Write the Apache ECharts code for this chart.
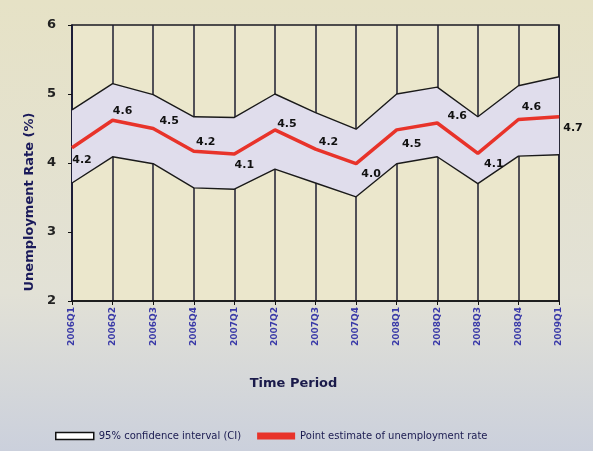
<!DOCTYPE html>
<html>
<head>
<meta charset="utf-8">
<script src="https://cdn.jsdelivr.net/npm/echarts@6/dist/echarts.min.js"></script>
<style>html,body{margin:0;padding:0;}#c{width:593px;height:451px;}</style>
</head>
<body>
<div id="c"></div>
<script>
const categories = ['2006Q1','2006Q2','2006Q3','2006Q4','2007Q1','2007Q2','2007Q3','2007Q4','2008Q1','2008Q2','2008Q3','2008Q4','2009Q1'];
const pointEstimate = [4.22, 4.62, 4.5, 4.17, 4.13, 4.48, 4.2, 3.99, 4.48, 4.58, 4.14, 4.63, 4.67];
const ciUpper = [4.77, 5.15, 4.99, 4.67, 4.66, 5.0, 4.73, 4.49, 5.0, 5.1, 4.67, 5.12, 5.25];
const ciLower = [3.71, 4.09, 3.99, 3.64, 3.62, 3.91, 3.71, 3.51, 3.99, 4.09, 3.7, 4.1, 4.12];
const yTicks = [2, 3, 4, 5, 6];

// label layout (pixel offsets relative to each point)
const labelOffsets = [[10,12],[10,-9],[16,-7],[12,-9],[10,11],[12,-6],[13,-7],[15,10],[15,14],[20,-7],[16,11],[13,-12],[14,11]];

const font = 'DejaVu Sans, Verdana, sans-serif';
const chart = echarts.init(document.getElementById('c'));
const bandDiff = ciUpper.map((u, i) => +(u - ciLower[i]).toFixed(3));

chart.setOption({
  animation: false,
  backgroundColor: {
    type: 'linear', x: 0, y: 0, x2: 0, y2: 1,
    colorStops: [
      {offset: 0, color: '#e6e2c6'},
      {offset: 0.65, color: '#e2e1d6'},
      {offset: 1, color: '#cbd0dc'}
    ]
  },
  grid: {
    left: 72, right: 34, top: 25, bottom: 150,
    show: true, backgroundColor: '#ebe7cc', borderColor: '#1a1a22', borderWidth: 1.5
  },
  legend: {
    left: 50, bottom: 5,
    itemWidth: 38, itemHeight: 7, itemGap: 16,
    textStyle: {fontFamily: font, fontSize: 10, color: '#1a1a50'},
    data: [
      {name: '95% confidence interval (CI)', icon: 'rect', itemStyle: {color: '#ffffff', borderColor: '#111', borderWidth: 1.5}},
      {name: 'Point estimate of unemployment rate', icon: 'rect', itemStyle: {color: '#e8332a', borderWidth: 0}}
    ]
  },
  xAxis: {
    type: 'category', data: categories, boundaryGap: false,
    name: 'Time Period', nameLocation: 'middle', nameGap: 76,
    nameTextStyle: {fontFamily: font, fontWeight: 'bold', fontSize: 13, color: '#1a1a4a', padding: [0, 44, 0, 0]},
    axisLine: {lineStyle: {color: '#111', width: 1.5}},
    axisTick: {show: true, length: 4, lineStyle: {color: '#111'}},
    axisLabel: {rotate: 90, fontFamily: font, fontSize: 9, fontWeight: 'bold', color: '#3a3aa8', margin: 6},
    splitLine: {show: true, lineStyle: {color: '#1e1e30', width: 1.5}}
  },
  yAxis: {
    type: 'value', min: yTicks[0], max: yTicks[yTicks.length - 1], interval: 1,
    name: 'Unemployment Rate (%)', nameLocation: 'middle', nameGap: 30,
    nameTextStyle: {fontFamily: font, fontWeight: 'bold', fontSize: 13, color: '#1a1a5a', padding: [0, 78, 0, 0]},
    axisLine: {show: true, lineStyle: {color: '#1a1a3a', width: 1.5}},
    axisTick: {show: true, length: 4, lineStyle: {color: '#111'}},
    axisLabel: {fontFamily: font, fontSize: 13, fontWeight: 'bold', color: '#222', margin: 16},
    splitLine: {show: false}
  },
  series: [
    {
      name: 'bandBase', type: 'line', stack: 'ci', data: ciLower,
      symbol: 'none', lineStyle: {opacity: 0}, silent: true
    },
    {
      name: '95% confidence interval (CI)', type: 'line', stack: 'ci', data: bandDiff,
      symbol: 'none', lineStyle: {opacity: 0},
      areaStyle: {color: '#e0ddec', opacity: 1}
    },
    {
      name: 'upperLine', type: 'line', data: ciUpper, symbol: 'none',
      lineStyle: {color: '#1a1a1a', width: 1.4}
    },
    {
      name: 'lowerLine', type: 'line', data: ciLower, symbol: 'none',
      lineStyle: {color: '#1a1a1a', width: 1.4}
    },
    {
      name: 'Point estimate of unemployment rate', type: 'line',
      symbol: 'circle', symbolSize: 1, showSymbol: true,
      lineStyle: {color: '#e8332a', width: 3.5},
      itemStyle: {color: '#e8332a'},
      data: pointEstimate.map((v, i) => ({
        value: v,
        label: {
          show: true, position: 'inside', offset: labelOffsets[i],
          formatter: () => v.toFixed(1),
          fontFamily: font, fontSize: 11, fontWeight: 'bold', color: '#111'
        }
      }))
    }
  ]
});
</script>
</body>
</html>
